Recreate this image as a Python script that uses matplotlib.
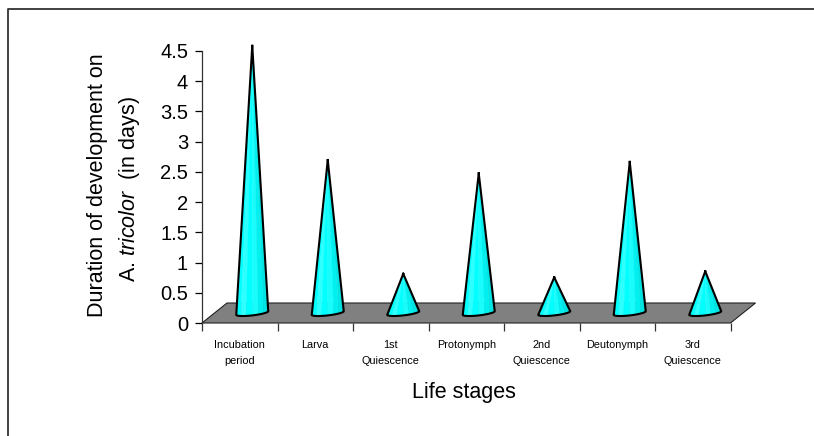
import numpy as np
import matplotlib.pyplot as plt
from matplotlib.patches import Polygon
from matplotlib.lines import Line2D

plt.rcParams['font.family'] = ['Liberation Sans', 'DejaVu Sans']
plt.rcParams['mathtext.fontset'] = 'custom'
plt.rcParams['mathtext.it'] = 'Liberation Sans:italic'
plt.rcParams['mathtext.rm'] = 'Liberation Sans'

# --- data ---
stages = ["Incubation\nperiod", "Larva", "1st\nQuiescence", "Protonymph",
          "2nd\nQuiescence", "Deutonymph", "3rd\nQuiescence"]
days = [4.42, 2.53, 0.65, 2.31, 0.59, 2.50, 0.69]
yticks = [0, 0.5, 1, 1.5, 2, 2.5, 3, 3.5, 4, 4.5]

W, H = 814, 436
fig = plt.figure(figsize=(W / 100, H / 100), dpi=100)

# axes box in pixels: x 202..730.5, y 323 (0) .. 51 (4.5)
x0, x1, y0, y1 = 202, 730.5, 323, 51
ax = fig.add_axes([x0 / W, 1 - y0 / H, (x1 - x0) / W, (y0 - y1) / H])
n = len(stages)
ax.set_xlim(0, n)
ax.set_ylim(0, 4.5)

for s in ['top', 'right', 'bottom']:
    ax.spines[s].set_visible(False)
ax.spines['left'].set_color('#333333')
ax.spines['left'].set_linewidth(0.9)

# depth offset (3-D look)
ddx = 25 / ((x1 - x0) / n)
ddy = 20 / ((y0 - y1) / 4.5)

floor = Polygon([(0, 0), (n, 0), (n + ddx, ddy), (ddx, ddy)], closed=True,
                facecolor='#808080', edgecolor='#222222', lw=0.8,
                clip_on=False, zorder=1)
ax.add_patch(floor)

# cones
half_w = 16 / ((x1 - x0) / n)
ell_h = 0.04
tilt = 0.03
base_y = ddy / 2
shades = ['#00f4f4', '#00ffff', '#2effff', '#00ffff', '#1afcfc',
          '#00f0f0', '#00e4e4', '#00dada']
for i, v in enumerate(days):
    cx = i + 0.5 + ddx / 2
    apex = (cx, base_y + v)
    t = np.linspace(np.pi, 2 * np.pi, 30)
    bx = cx + half_w * np.cos(t)
    by = base_y + ell_h * np.sin(t) + tilt * np.cos(t)
    # shaded strips
    edges = np.linspace(np.pi, 2 * np.pi, len(shades) + 1)
    for k, c in enumerate(shades):
        tt = np.linspace(edges[k], edges[k + 1], 6)
        px = cx + half_w * np.cos(tt)
        py = base_y + ell_h * np.sin(tt) + tilt * np.cos(tt)
        pts = [apex] + list(zip(px, py))
        ax.add_patch(Polygon(pts, closed=True, facecolor=c, edgecolor=c,
                             lw=0.3, clip_on=False, zorder=3))
    outline = [apex] + list(zip(bx, by)) + [apex]
    ox, oy = zip(*outline)
    ax.plot(ox, oy, color='black', lw=1.5, clip_on=False, zorder=4,
            solid_joinstyle='miter')

# y axis
ax.set_yticks(yticks)
ax.set_yticklabels([f"{v:g}" for v in yticks])
ax.tick_params(axis='y', direction='out', length=5, width=0.9, pad=5,
               labelsize=14.5, colors='black')

# x axis: labels at centers, ticks at category borders
ax.set_xticks(np.arange(n) + 0.5)
ax.set_xticklabels(stages, fontsize=7.8, linespacing=1.85)
ax.set_xticks(np.arange(n + 1), minor=True)
ax.tick_params(axis='x', which='major', length=0, pad=12)
ax.tick_params(axis='x', which='minor', direction='out', length=6, width=0.9,
               color='#333333')

# axis titles
fig.text(98 / W, 1 - 185 / H, "Duration of development on", rotation=90,
         ha='center', va='center', fontsize=15.5)
fig.text(130 / W, 1 - 189 / H, r"A. $tricolor$  (in days)", rotation=90,
         ha='center', va='center', fontsize=15.5)
fig.text(464 / W, 1 - 392 / H, "Life stages", ha='center', va='center',
         fontsize=15.5)

# chart border (clipped at right/bottom)
fig.add_artist(Line2D([8 / W, 8 / W, 1.0], [0.0, 1 - 9 / H, 1 - 9 / H],
                      transform=fig.transFigure, color='#333333', lw=1.3))

fig.savefig('out.png', dpi=100)
